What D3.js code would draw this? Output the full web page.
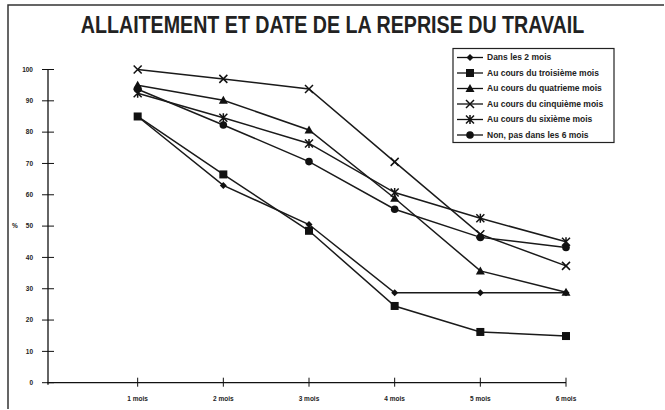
<!DOCTYPE html>
<html><head><meta charset="utf-8">
<script src="https://cdn.jsdelivr.net/npm/d3@7"></script>
<style>body{margin:0;background:#fff}svg{display:block}</style>
</head><body>
<svg id="c" width="665" height="410"></svg>
<script>
const months = ["1 mois","2 mois","3 mois","4 mois","5 mois","6 mois"];
const yTicks = [0,10,20,30,40,50,60,70,80,90,100];
const seriesNames = ["Dans les 2 mois","Au cours du troisième mois","Au cours du quatrieme mois","Au cours du cinquième mois","Au cours du sixième mois","Non, pas dans les 6 mois"];
const dans2 = [85, 63, 50.5, 28.7, 28.7, 28.7];
const troisieme = [85, 66.5, 48.5, 24.5, 16.2, 14.9];
const quatrieme = [95, 90.2, 80.7, 58.9, 35.7, 28.9];
const cinquieme = [100, 97, 93.8, 70.5, 47.4, 37.3];
const sixieme = [92.4, 84.6, 76.4, 60.7, 52.5, 45];
const nonPas = [93.7, 82.3, 70.6, 55.4, 46.4, 43.2];
const allValues = [dans2, troisieme, quatrieme, cinquieme, sixieme, nonPas];
const markerTypes = ["diamond","square","triangle","x","asterisk","circle"];

const svg = d3.select("#c");
const font = "'Liberation Sans', Arial, sans-serif";

// frame
svg.append("path").attr("d","M8,409 V5 H664").attr("fill","none").attr("stroke","#333").attr("stroke-width",1.5);

// title (horizontally condensed)
svg.append("text").attr("x",0).attr("y",33).attr("text-anchor","middle")
  .attr("transform","translate(332.5,0) scale(0.855,1)")
  .attr("font-family",font).attr("font-weight","bold").attr("font-size",23)
  .attr("fill","#222")
  .text("ALLAITEMENT ET DATE DE LA REPRISE DU TRAVAIL");

const x = d3.scaleLinear().domain([0,6]).range([52,566]);
const y = d3.scaleLinear().domain([0,100]).range([382.7,69.5]);

// y axis
const ya = svg.append("g");
ya.append("line").attr("x1",48).attr("x2",48).attr("y1",y(100)).attr("y2",y(0)+2).attr("stroke","#111").attr("stroke-width",1.3);
yTicks.forEach(t=>{
  ya.append("line").attr("x1",42).attr("x2",54).attr("y1",y(t)).attr("y2",y(t)).attr("stroke","#111").attr("stroke-width",1);
  ya.append("text").attr("x",33).attr("y",y(t)).attr("dy","0.35em").attr("text-anchor","end")
    .attr("font-family",font).attr("font-weight","bold").attr("font-size",6.5).attr("fill","#222").text(t);
});
svg.append("text").attr("x",15).attr("y",y(50)).attr("dy","0.35em").attr("text-anchor","middle")
  .attr("font-family",font).attr("font-weight","bold").attr("font-size",6.5).attr("fill","#222").text("%");

// x axis
const xa = svg.append("g");
xa.append("line").attr("x1",47).attr("x2",x(6)).attr("y1",y(0)).attr("y2",y(0)).attr("stroke","#111").attr("stroke-width",1.3);
months.forEach((m,i)=>{
  xa.append("line").attr("x1",x(i+1)).attr("x2",x(i+1)).attr("y1",y(0)-5).attr("y2",y(0)+4).attr("stroke","#111").attr("stroke-width",1);
  xa.append("text").attr("x",x(i+1)).attr("y",401).attr("text-anchor","middle")
    .attr("font-family",font).attr("font-weight","bold").attr("font-size",6.5).attr("fill","#222").text(m);
});

function drawMarker(g, type, cx, cy){
  const c = "#111";
  if(type==="diamond"){
    g.append("path").attr("d",`M${cx},${cy-3.5}L${cx+3.5},${cy}L${cx},${cy+3.5}L${cx-3.5},${cy}Z`).attr("fill",c);
  } else if(type==="square"){
    g.append("rect").attr("x",cx-4).attr("y",cy-4).attr("width",8).attr("height",8).attr("fill",c);
  } else if(type==="triangle"){
    g.append("path").attr("d",`M${cx},${cy-4.5}L${cx+4.5},${cy+3.5}L${cx-4.5},${cy+3.5}Z`).attr("fill",c);
  } else if(type==="x"){
    g.append("path").attr("d",`M${cx-4},${cy-4}L${cx+4},${cy+4}M${cx+4},${cy-4}L${cx-4},${cy+4}`).attr("stroke",c).attr("stroke-width",1.5);
  } else if(type==="asterisk"){
    g.append("path").attr("d",`M${cx-4},${cy-4}L${cx+4},${cy+4}M${cx+4},${cy-4}L${cx-4},${cy+4}M${cx},${cy-4.5}L${cx},${cy+4.5}`).attr("stroke",c).attr("stroke-width",1.5);
  } else {
    g.append("circle").attr("cx",cx).attr("cy",cy).attr("r",3.8).attr("fill",c);
  }
}

const line = d3.line().x((d,i)=>x(i+1)).y(d=>y(d));
allValues.forEach((vals,k)=>{
  svg.append("path").attr("d",line(vals)).attr("fill","none").attr("stroke","#1a1a1a").attr("stroke-width",1.5);
});
allValues.forEach((vals,k)=>{
  const g = svg.append("g");
  vals.forEach((v,i)=>drawMarker(g, markerTypes[k], x(i+1), y(v)));
});

// legend
const lg = svg.append("g");
lg.append("rect").attr("x",453).attr("y",48.5).attr("width",161).attr("height",94).attr("fill","#fff").attr("stroke","#222").attr("stroke-width",1.2);
seriesNames.forEach((n,k)=>{
  const ly = 57.5 + k*15.5;
  lg.append("line").attr("x1",457).attr("x2",483).attr("y1",ly).attr("y2",ly).attr("stroke","#111").attr("stroke-width",1.3);
  drawMarker(lg, markerTypes[k], 470, ly);
  lg.append("text").attr("x",487).attr("y",ly).attr("dy","0.35em")
    .attr("font-family",font).attr("font-weight","bold").attr("font-size",8.5).attr("fill","#222").text(n);
});
</script>
</body></html>
